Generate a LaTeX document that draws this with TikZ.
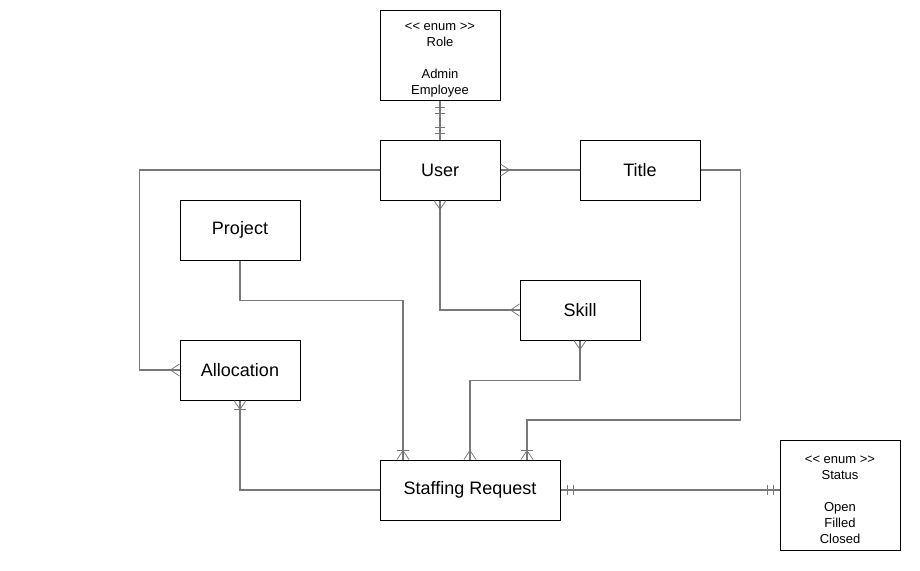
\documentclass[tikz,border=0pt]{standalone}
\usepackage{fontspec}
\setmainfont{Liberation Sans}
\usetikzlibrary{decorations.markings}
\definecolor{linkgray}{RGB}{120,120,120}
\newcommand{\enumtag}{\rule{0pt}{17pt}{<}{<} enum {>}{>}}
\tikzset{
	entity/.style={draw, line width=1pt, minimum width=120pt, minimum height=60pt, inner sep=0pt, font=\fontsize{18}{21}\selectfont},
	enumbox/.style={draw, line width=1pt, minimum width=120pt, inner sep=0pt, align=center, font=\fontsize{13}{16}\selectfont},
	link/.style={draw=linkgray, line width=1.1pt},
	many end/.style={postaction={decorate, decoration={markings, mark=at position 1 with {\draw[linkgray, line width=0.8pt] (0,6pt) -- (-9pt,0) -- (0,-6pt);}}}},
	many start/.style={postaction={decorate, decoration={markings, mark=at position 0 with {\draw[linkgray, line width=0.8pt] (0,6pt) -- (9pt,0) -- (0,-6pt);}}}},
	onemany end/.style={many end, postaction={decorate, decoration={markings, mark=at position 1 with {\draw[linkgray, line width=1.1pt] (-9pt,6pt) -- (-9pt,-6pt);}}}},
	onemany start/.style={many start, postaction={decorate, decoration={markings, mark=at position 0 with {\draw[linkgray, line width=1.1pt] (9pt,6pt) -- (9pt,-6pt);}}}},
	oneone end/.style={postaction={decorate, decoration={markings, mark=at position 1 with {\draw[linkgray, line width=1.1pt] (-6pt,5pt) -- (-6pt,-5pt) (-12pt,5pt) -- (-12pt,-5pt);}}}},
	oneone start/.style={postaction={decorate, decoration={markings, mark=at position 0 with {\draw[linkgray, line width=1.1pt] (7pt,5pt) -- (7pt,-5pt) (13pt,5pt) -- (13pt,-5pt);}}}}
}
\begin{document}
\begin{tikzpicture}[x=1pt, y=-1pt]
		\useasboundingbox (0,0) rectangle (920,570);
		% entities
		\node[enumbox, minimum height=90pt] (role) at (440,55) {\enumtag\\Role\\[16pt]Admin\\Employee};
		\node[entity] (user) at (440,170) {User};
		\node[entity] (title) at (640,170) {Title};
		\node[entity] (project) at (240,230) {Project};
		\node[entity] (skill) at (580,310) {Skill};
		\node[entity] (alloc) at (240,370) {Allocation};
		\node[entity, minimum width=180pt] (request) at (470,490) {Staffing Request};
		\node[enumbox, minimum height=110pt] (status) at (840,495) {\enumtag\\Status\\[16pt]Open\\Filled\\Closed};
		% relations
		\draw[link, oneone start, oneone end] (role.south) -- (user.north);
		\draw[link, many start] (user.east) -- (title.west);
		\draw[link, many end] (user.west) -- ++(-240,0) |- (alloc.west);
		\draw[link, many start, many end] (user.south) |- (skill.west);
		\draw[link, onemany end] (project.south) -- ++(0,40) -| ([xshift=-67pt]request.north);
		\draw[link, many start, many end] (skill.south) -- ++(0,40) -| (request.north);
		\draw[link, onemany end] (title.east) -- ++(40,0) -- ++(0,250) -| ([xshift=57pt]request.north);
		\draw[link, onemany start] (alloc.south) |- (request.west);
		\draw[link, oneone start, oneone end] (request.east) -- (request.east -| status.west);
		\end{tikzpicture}
\end{document}
